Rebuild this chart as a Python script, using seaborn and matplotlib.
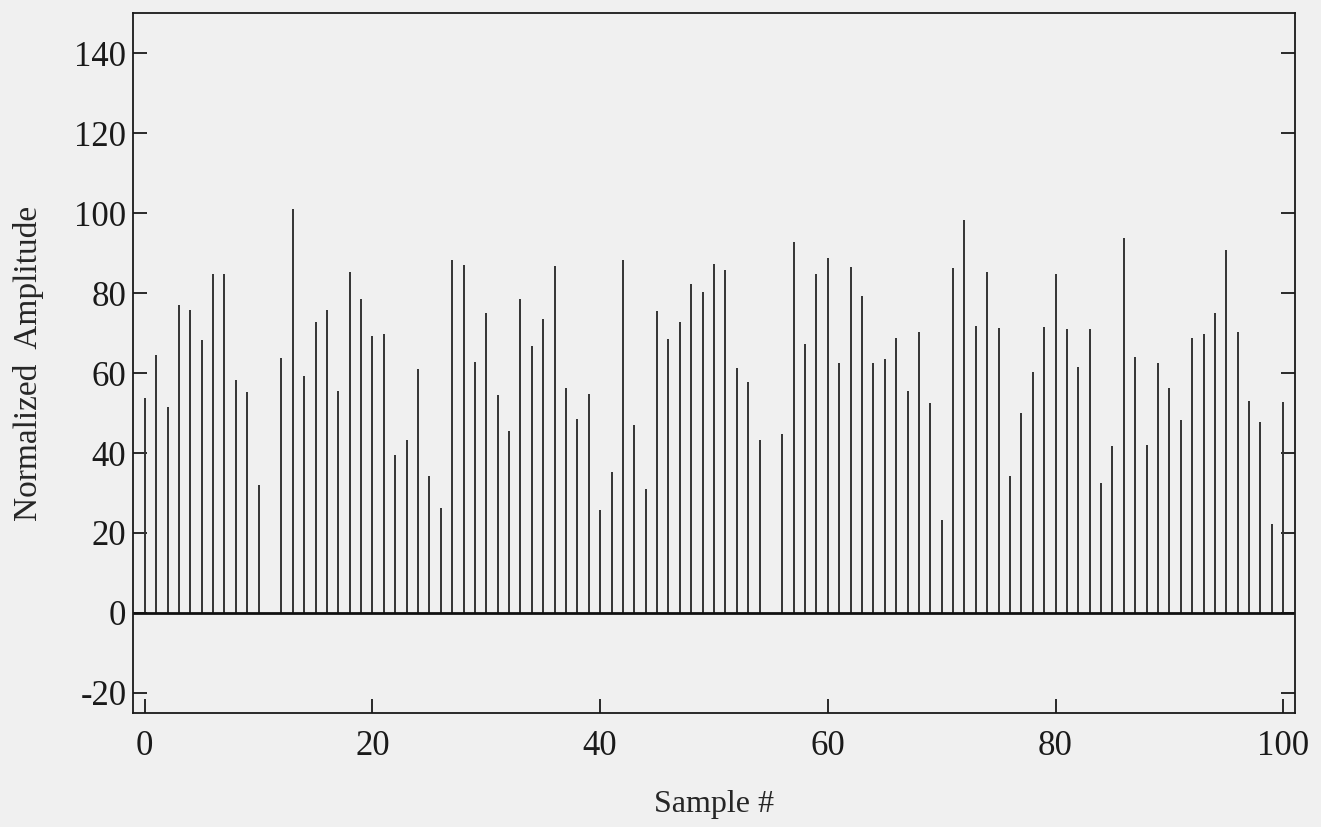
import matplotlib
matplotlib.use("Agg")
import matplotlib.pyplot as plt
import numpy as np
import pandas as pd
import seaborn as sns

# amplitude of each sample (0 = no stem)
samples = list(range(101))
amplitude = [
    53.7, 64.4, 51.6, 77.1, 75.7, 68.3, 84.8, 84.8, 58.2, 55.2,
    32.1, 0.0, 63.7, 101.0, 59.2, 72.8, 75.8, 55.6, 85.2, 78.5,
    69.2, 69.7, 39.5, 43.2, 61.0, 34.2, 26.3, 88.3, 87.1, 62.7,
    75.0, 54.6, 45.4, 78.6, 66.8, 73.6, 86.7, 56.3, 48.6, 54.7,
    25.8, 35.2, 88.3, 46.9, 31.1, 75.4, 68.6, 72.8, 82.2, 80.2,
    87.4, 85.7, 61.2, 57.7, 43.3, 0.0, 44.8, 92.7, 67.2, 84.7,
    88.8, 62.5, 86.5, 79.3, 62.5, 63.6, 68.7, 55.5, 70.3, 52.4,
    23.3, 86.3, 98.2, 71.7, 85.2, 71.2, 34.2, 50.0, 60.2, 71.4,
    84.7, 71.1, 61.6, 70.9, 32.5, 41.8, 93.7, 63.9, 41.9, 62.4,
    56.2, 48.3, 68.8, 69.7, 75.0, 90.8, 70.2, 53.0, 47.7, 22.3,
    52.8,
]
x_ticks = [0, 20, 40, 60, 80, 100]
y_ticks = [-20, 0, 20, 40, 60, 80, 100, 120, 140]

df = pd.DataFrame({"sample": samples, "amp": amplitude})

sns.set_theme(style="ticks")
plt.rcParams["font.family"] = ["Liberation Serif", "DejaVu Serif"]
plt.rcParams["axes.linewidth"] = 1.3
plt.rcParams["axes.unicode_minus"] = False

fig = plt.figure(figsize=(13.21, 8.27), dpi=100, facecolor="#f0f0f0")
ax = fig.add_axes([0.101, 0.138, 0.879, 0.846])
ax.set_facecolor("#f0f0f0")

ax.vlines(df["sample"], 0, df["amp"], color="#333333", linewidth=1.4)
ax.axhline(0, color="#111111", linewidth=2.0)

ax.set_xlim(-1, 101)
ax.set_ylim(-25, 150)
ax.set_xticks(x_ticks)
ax.set_yticks(y_ticks)
ax.tick_params(axis="both", direction="in", length=10, width=1.3,
               labelsize=25, colors="#1a1a1a")
ax.tick_params(axis="y", right=True, pad=5)
ax.tick_params(axis="x", pad=12)
for s in ax.spines.values():
    s.set_color("#1a1a1a")

ax.set_xlabel("Sample #", fontsize=23, labelpad=20)
ax.set_ylabel("Normalized  Amplitude", fontsize=24, labelpad=22)

fig.savefig("out.png", dpi=100, facecolor=fig.get_facecolor())
